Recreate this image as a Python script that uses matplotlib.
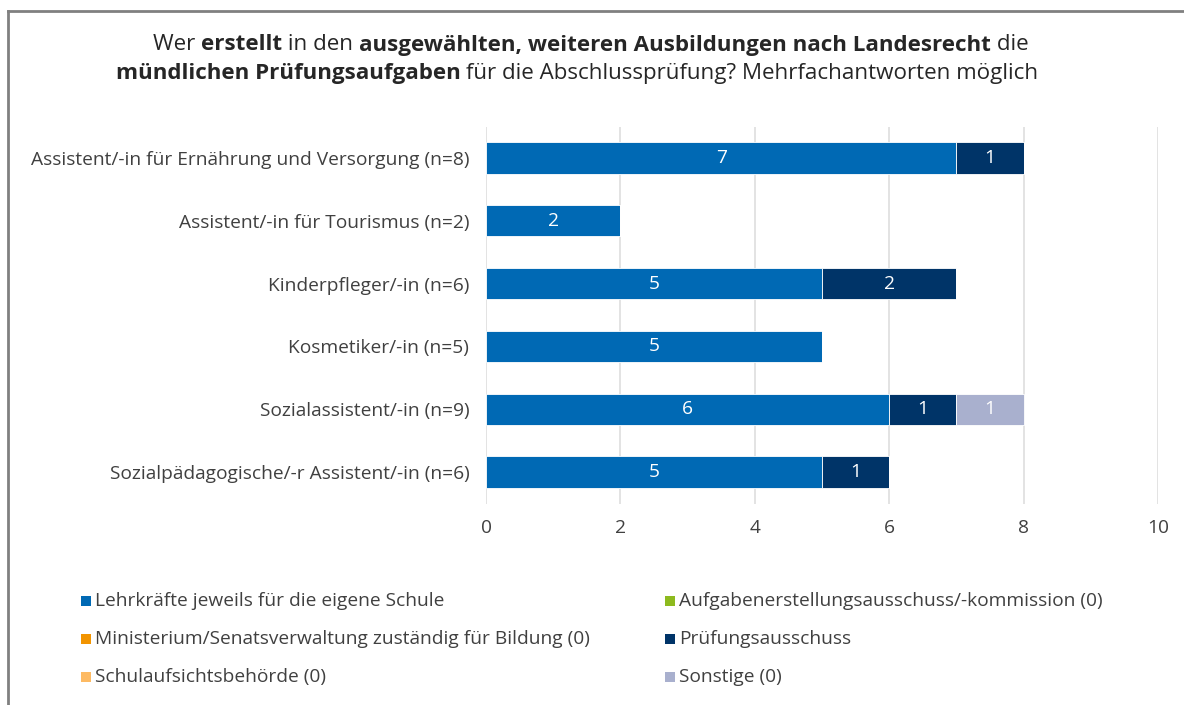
import matplotlib
matplotlib.use("Agg")
import matplotlib.pyplot as plt
from matplotlib.patches import Rectangle
from matplotlib.lines import Line2D
import numpy as np

plt.rcParams['font.family'] = ['Open Sans', 'DejaVu Sans']

categories = [
    "Assistent/-in für Ernährung und Versorgung (n=8)",
    "Assistent/-in für Tourismus (n=2)",
    "Kinderpfleger/-in (n=6)",
    "Kosmetiker/-in (n=5)",
    "Sozialassistent/-in (n=9)",
    "Sozialpädagogische/-r Assistent/-in (n=6)",
]

series_names = [
    "Lehrkräfte jeweils für die eigene Schule",
    "Aufgabenerstellungsausschuss/-kommission (0)",
    "Ministerium/Senatsverwaltung zuständig für Bildung (0)",
    "Prüfungsausschuss",
    "Schulaufsichtsbehörde (0)",
    "Sonstige (0)",
]

lehrkraefte = [7, 2, 5, 5, 6, 5]
aufgabenausschuss = [0, 0, 0, 0, 0, 0]
ministerium = [0, 0, 0, 0, 0, 0]
pruefungsausschuss = [1, 0, 2, 0, 1, 1]
schulaufsicht = [0, 0, 0, 0, 0, 0]
sonstige = [0, 0, 0, 0, 1, 0]

series_values = [lehrkraefte, aufgabenausschuss, ministerium,
                 pruefungsausschuss, schulaufsicht, sonstige]
colors = ["#0069B4", "#8DBA1E", "#F29400", "#003468", "#FDBA63", "#A9B0CE"]

x_ticks = [0, 2, 4, 6, 8, 10]

W, H = 1184, 705
fig = plt.figure(figsize=(W / 100, H / 100), dpi=100)

# frame lines (top and left)
fig.add_artist(Line2D([8 / W, 1.0], [1 - 11 / H, 1 - 11 / H], color="#808080", lw=2,
                      transform=fig.transFigure))
fig.add_artist(Line2D([8 / W, 8 / W], [1 - 11 / H, 0], color="#808080", lw=2,
                      transform=fig.transFigure))

ax = fig.add_axes([486 / W, 1 - 503.5 / H, (1158 - 486) / W, (503.5 - 126.5) / H])

y = np.arange(len(categories))
left = np.zeros(len(categories))
for name, vals, col in zip(series_names, series_values, colors):
    vals = np.array(vals, dtype=float)
    bars = ax.barh(y, vals, left=left, height=0.5, color=col, edgecolor="white",
                   linewidth=0.6, label=name, zorder=3)
    for b, v in zip(bars, vals):
        if v > 0:
            ax.text(b.get_x() + b.get_width() / 2, b.get_y() + b.get_height() / 2,
                    f"{int(v)}", ha="center", va="center", color="white",
                    fontsize=13.8, zorder=4)
    left += vals

ax.set_xlim(0, 10)
ax.set_ylim(len(categories) - 0.5, -0.5)
ax.set_xticks(x_ticks)
ax.set_xticklabels([str(t) for t in x_ticks])
ax.set_yticks(y)
ax.set_yticklabels(categories)
ax.tick_params(axis="both", length=0, labelsize=13.8, labelcolor="#404040")
ax.tick_params(axis="y", pad=12)
ax.tick_params(axis="x", pad=11)
ax.xaxis.grid(True, color="#E3E3E3", lw=1.4, zorder=0)
ax.set_axisbelow(True)
for s in ax.spines.values():
    s.set_visible(False)

# title with mixed weights
title_lines = [
    [("Wer ", "normal"), ("erstellt", "bold"), (" in den ", "normal"),
     ("ausgewählten, weiteren Ausbildungen nach Landesrecht", "bold"), (" die", "normal")],
    [("mündlichen Prüfungsaufgaben", "bold"),
     (" für die Abschlussprüfung? Mehrfachantworten möglich", "normal")],
]
title_y = [45, 73]
title_cx = [591, 577]
renderer = fig.canvas.get_renderer()
for segs, yy, cx in zip(title_lines, title_y, title_cx):
    texts = []
    total = 0.0
    for s, wt in segs:
        t = fig.text(0, 1 - yy / H, s, fontsize=16.1, fontweight=wt, color="#262626",
                     va="center", ha="left")
        w = t.get_window_extent(renderer).width
        texts.append((t, w))
        total += w
    x0 = cx - total / 2
    for t, w in texts:
        t.set_x(x0 / W)
        x0 += w

# legend, row-major in two columns
leg_cols = [86, 670]
leg_rows = [601, 639, 677]
for i, (name, col) in enumerate(zip(series_names, colors)):
    cx = leg_cols[i % 2]
    cy = leg_rows[i // 2]
    fig.add_artist(Rectangle(((cx - 5) / W, 1 - (cy + 5) / H), 10 / W, 10 / H,
                             facecolor=col, edgecolor="none", transform=fig.transFigure))
    fig.text((cx + 9) / W, 1 - cy / H, name, fontsize=13.8, color="#404040",
             va="center", ha="left")

fig.savefig("out.png", dpi=100)
